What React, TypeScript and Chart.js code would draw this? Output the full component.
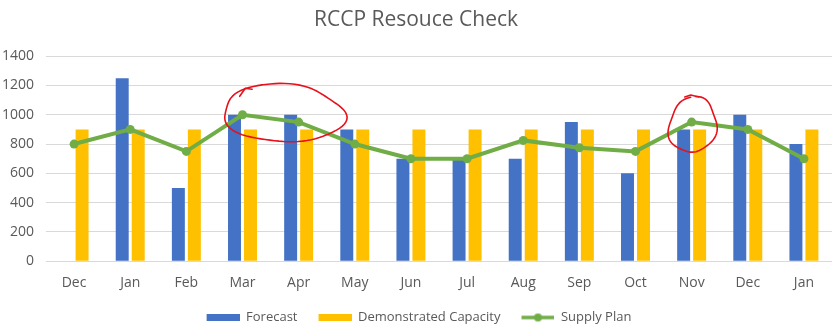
import React, { useEffect, useRef } from "react";
import { Chart, registerables } from "chart.js";

Chart.register(...registerables);

const categories = ["Dec", "Jan", "Feb", "Mar", "Apr", "May", "Jun", "Jul", "Aug", "Sep", "Oct", "Nov", "Dec", "Jan"];
const forecast = [null, 1250, 500, 1000, 1000, 900, 700, 700, 700, 950, 600, 900, 1000, 800];
const demonstratedCapacity = [900, 900, 900, 900, 900, 900, 900, 900, 900, 900, 900, 900, 900, 900];
const supplyPlan = [800, 900, 750, 1000, 950, 800, 700, 700, 825, 775, 750, 950, 900, 700];
const yMin = 0;
const yMax = 1400;
const yStep = 200;

const BLUE = "#4472C4";
const GOLD = "#FFC000";
const GREEN = "#70AD47";
const TEXT = "#595959";
const GRID = "#D9D9D9";
const FONT = "'Open Sans', 'Noto Sans', sans-serif";
const ICON_PAD = 6;

function makeRectIcon(color: string) {
  const c = document.createElement("canvas");
  c.width = 33 + ICON_PAD;
  c.height = 7;
  const ctx = c.getContext("2d")!;
  ctx.fillStyle = color;
  ctx.fillRect(ICON_PAD, 0, 33, 7);
  return c;
}

function makeLineIcon(color: string) {
  const c = document.createElement("canvas");
  c.width = 33 + ICON_PAD;
  c.height = 10;
  const ctx = c.getContext("2d")!;
  ctx.strokeStyle = color;
  ctx.lineWidth = 3.5;
  ctx.beginPath();
  ctx.moveTo(ICON_PAD, 5);
  ctx.lineTo(ICON_PAD + 33, 5);
  ctx.stroke();
  ctx.fillStyle = color;
  ctx.beginPath();
  ctx.arc(ICON_PAD + 16.5, 5, 4, 0, Math.PI * 2);
  ctx.fill();
  return c;
}

// Hand-drawn red annotation loops, placed relative to the chart scales
const annotationPlugin = {
  id: "redLoops",
  afterDatasetsDraw(chart: any) {
    const xs = chart.scales.x;
    const ys = chart.scales.y;
    const ctx = chart.ctx;
    const catW = xs.getPixelForValue(1) - xs.getPixelForValue(0);
    ctx.save();
    ctx.strokeStyle = "#E8101A";
    ctx.lineWidth = 1.6;
    ctx.lineJoin = "round";
    ctx.lineCap = "round";

    const loop = (cx: number, cy: number, rx: number, ry: number, rot: number, start: number, sweep: number, wob: number) => {
      ctx.beginPath();
      const n = 80;
      for (let i = 0; i <= n; i++) {
        const t = start + (sweep * i) / n;
        const r = 1 + wob * Math.sin(3 * t + 0.7) + wob * 0.6 * Math.cos(5 * t);
        const ex = rx * r * Math.cos(t);
        const ey = ry * r * Math.sin(t);
        const px = cx + ex * Math.cos(rot) - ey * Math.sin(rot);
        const py = cy + ex * Math.sin(rot) + ey * Math.cos(rot);
        if (i === 0) ctx.moveTo(px, py);
        else ctx.lineTo(px, py);
      }
      ctx.stroke();
    };

    // Loop around Mar-Apr
    const c1x = xs.getPixelForValue(3) + catW * 0.73;
    const c1y = ys.getPixelForValue(1010);
    loop(c1x, c1y, catW * 1.08, 29, 0.05, -2.05, Math.PI * 2 + 0.1, 0.04);
    ctx.beginPath();
    ctx.moveTo(c1x - catW * 0.78, c1y - 17);
    ctx.lineTo(c1x - catW * 0.68, c1y - 25);
    ctx.lineTo(c1x - catW * 0.56, c1y - 24);
    ctx.stroke();

    // Loop around Nov
    const c2x = xs.getPixelForValue(11) + catW * 0.02;
    const c2y = ys.getPixelForValue(930);
    loop(c2x, c2y, catW * 0.42, 28, 0.25, -1.75, Math.PI * 2 - 0.2, 0.05);
    ctx.beginPath();
    ctx.moveTo(c2x - 8, c2y - 28);
    ctx.lineTo(c2x - 2, c2y - 30);
    ctx.lineTo(c2x + 6, c2y - 28);
    ctx.stroke();
    ctx.restore();
  },
};

export default function App() {
  const ref = useRef<HTMLCanvasElement | null>(null);

  useEffect(() => {
    if (!ref.current) return;
    const icons = [makeRectIcon(BLUE), makeRectIcon(GOLD), makeLineIcon(GREEN)];
    const chart = new Chart(ref.current, {
      type: "bar",
      data: {
        labels: categories,
        datasets: [
          {
            type: "bar",
            label: "Forecast",
            data: forecast,
            backgroundColor: BLUE,
            barPercentage: 0.81,
            categoryPercentage: 0.57,
            order: 2,
          },
          {
            type: "bar",
            label: "Demonstrated Capacity",
            data: demonstratedCapacity,
            backgroundColor: GOLD,
            barPercentage: 0.81,
            categoryPercentage: 0.57,
            order: 2,
          },
          {
            type: "line",
            label: "Supply Plan",
            data: supplyPlan,
            borderColor: GREEN,
            backgroundColor: GREEN,
            borderWidth: 4,
            pointRadius: 4.5,
            pointHoverRadius: 4.5,
            pointBorderWidth: 0,
            pointBackgroundColor: GREEN,
            tension: 0,
            order: 1,
          } as any,
        ],
      },
      options: {
        responsive: false,
        animation: false,
        devicePixelRatio: 1,
        layout: { padding: { left: 0, right: 7, top: 0, bottom: -2 } },
        plugins: {
          title: {
            display: true,
            text: "RCCP Resouce Check",
            color: TEXT,
            font: { family: FONT, size: 21, weight: "normal" },
            padding: { top: 7, bottom: 24 },
          },
          legend: {
            position: "bottom",
            labels: {
              usePointStyle: true,
              pointStyleWidth: 33 + ICON_PAD,
              boxHeight: 10,
              color: TEXT,
              font: { family: FONT, size: 13 },
              padding: 15,
              sort: (a: any, b: any) => a.datasetIndex - b.datasetIndex,
              generateLabels: (c: any) => {
                const base = Chart.defaults.plugins.legend.labels.generateLabels(c);
                return base.map((l: any) => ({ ...l, pointStyle: icons[l.datasetIndex], lineWidth: 0, strokeStyle: "transparent" }));
              },
            },
          },
          tooltip: { enabled: false },
        },
        scales: {
          x: {
            grid: { display: false },
            border: { display: false },
            ticks: { color: TEXT, font: { family: FONT, size: 14 }, padding: 5 },
          },
          y: {
            min: yMin,
            max: yMax,
            ticks: {
              stepSize: yStep,
              color: TEXT,
              font: { family: FONT, size: 14 },
              padding: 12,
              callback: (v: any) => String(v),
            },
            grid: { color: GRID, lineWidth: 1, drawTicks: false },
            border: { display: false },
            afterFit: (s: any) => {
              s.width = 46;
            },
          },
        },
      },
      plugins: [annotationPlugin],
    });
    return () => chart.destroy();
  }, []);

  return (
    <div style={{ position: "absolute", left: 0, top: 0, width: 839, height: 332, background: "#fff" }}>
      <canvas ref={ref} width={839} height={332} style={{ display: "block", width: 839, height: 332 }} />
    </div>
  );
}
